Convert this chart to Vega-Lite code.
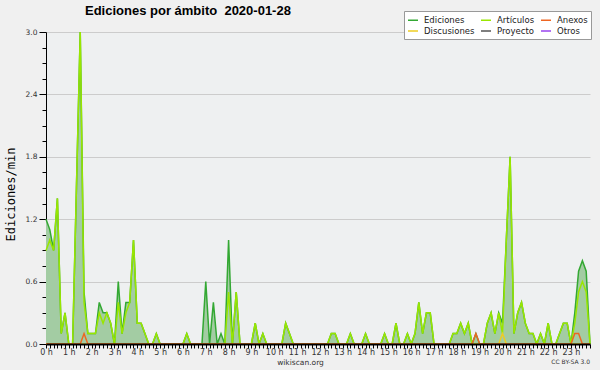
{
  "$schema": "https://vega.github.io/schema/vega-lite/v6.json",
  "width": 544,
  "height": 312,
  "autosize": {"type": "none"},
  "padding": {"left": 46, "top": 32, "right": 10, "bottom": 26},
  "background": "#f0f0f0",
  "config": {"view": {"stroke": null, "fill": "#eef0f1"}, "font": "DejaVu Sans"},
  "title": {"text": "Ediciones por ámbito \u00a02020-01-28", "anchor": "start", "frame": "group", "dx": 39, "dy": 19, "font": "Liberation Sans", "fontSize": 13, "fontWeight": "bold", "color": "#000000", "offset": 12},
  "data": {"values": [
    {"min":0,"Ediciones":1.2,"Artículos":0.9,"Anexos":0,"Discusiones":0},
    {"min":10,"Ediciones":1.1,"Artículos":1.0,"Anexos":0,"Discusiones":0},
    {"min":20,"Ediciones":0.9,"Artículos":0.9,"Anexos":0,"Discusiones":0},
    {"min":30,"Ediciones":1.4,"Artículos":1.4,"Anexos":0,"Discusiones":0},
    {"min":40,"Ediciones":0.1,"Artículos":0.1,"Anexos":0,"Discusiones":0},
    {"min":50,"Ediciones":0.3,"Artículos":0.3,"Anexos":0,"Discusiones":0},
    {"min":60,"Ediciones":0,"Artículos":0,"Anexos":0,"Discusiones":0},
    {"min":70,"Ediciones":0,"Artículos":0,"Anexos":0,"Discusiones":0},
    {"min":80,"Ediciones":1.5,"Artículos":1.5,"Anexos":0,"Discusiones":0},
    {"min":90,"Ediciones":3.0,"Artículos":3.0,"Anexos":0,"Discusiones":0},
    {"min":100,"Ediciones":0.5,"Artículos":0.4,"Anexos":0.1,"Discusiones":0},
    {"min":110,"Ediciones":0.1,"Artículos":0.1,"Anexos":0,"Discusiones":0},
    {"min":120,"Ediciones":0.1,"Artículos":0.1,"Anexos":0,"Discusiones":0},
    {"min":130,"Ediciones":0.1,"Artículos":0.1,"Anexos":0,"Discusiones":0},
    {"min":140,"Ediciones":0.4,"Artículos":0.3,"Anexos":0,"Discusiones":0},
    {"min":150,"Ediciones":0.3,"Artículos":0.2,"Anexos":0,"Discusiones":0},
    {"min":160,"Ediciones":0.3,"Artículos":0.3,"Anexos":0,"Discusiones":0},
    {"min":170,"Ediciones":0.2,"Artículos":0.2,"Anexos":0,"Discusiones":0},
    {"min":180,"Ediciones":0,"Artículos":0,"Anexos":0,"Discusiones":0},
    {"min":190,"Ediciones":0.6,"Artículos":0.4,"Anexos":0,"Discusiones":0},
    {"min":200,"Ediciones":0.1,"Artículos":0.1,"Anexos":0,"Discusiones":0},
    {"min":210,"Ediciones":0.4,"Artículos":0.3,"Anexos":0,"Discusiones":0},
    {"min":220,"Ediciones":0.4,"Artículos":0.4,"Anexos":0,"Discusiones":0},
    {"min":230,"Ediciones":1.0,"Artículos":1.0,"Anexos":0,"Discusiones":0},
    {"min":240,"Ediciones":0.2,"Artículos":0.2,"Anexos":0,"Discusiones":0},
    {"min":250,"Ediciones":0.2,"Artículos":0.2,"Anexos":0,"Discusiones":0},
    {"min":260,"Ediciones":0.1,"Artículos":0.1,"Anexos":0,"Discusiones":0},
    {"min":270,"Ediciones":0,"Artículos":0,"Anexos":0,"Discusiones":0},
    {"min":280,"Ediciones":0,"Artículos":0,"Anexos":0,"Discusiones":0},
    {"min":290,"Ediciones":0.1,"Artículos":0.1,"Anexos":0,"Discusiones":0},
    {"min":300,"Ediciones":0,"Artículos":0,"Anexos":0,"Discusiones":0},
    {"min":310,"Ediciones":0,"Artículos":0,"Anexos":0,"Discusiones":0},
    {"min":320,"Ediciones":0,"Artículos":0,"Anexos":0,"Discusiones":0},
    {"min":330,"Ediciones":0,"Artículos":0,"Anexos":0,"Discusiones":0},
    {"min":340,"Ediciones":0,"Artículos":0,"Anexos":0,"Discusiones":0},
    {"min":350,"Ediciones":0,"Artículos":0,"Anexos":0,"Discusiones":0},
    {"min":360,"Ediciones":0,"Artículos":0,"Anexos":0,"Discusiones":0},
    {"min":370,"Ediciones":0.1,"Artículos":0.1,"Anexos":0,"Discusiones":0},
    {"min":380,"Ediciones":0,"Artículos":0,"Anexos":0,"Discusiones":0},
    {"min":390,"Ediciones":0,"Artículos":0,"Anexos":0,"Discusiones":0},
    {"min":400,"Ediciones":0,"Artículos":0,"Anexos":0,"Discusiones":0},
    {"min":410,"Ediciones":0,"Artículos":0,"Anexos":0,"Discusiones":0},
    {"min":420,"Ediciones":0.6,"Artículos":0,"Anexos":0,"Discusiones":0},
    {"min":430,"Ediciones":0,"Artículos":0,"Anexos":0,"Discusiones":0},
    {"min":440,"Ediciones":0.4,"Artículos":0,"Anexos":0,"Discusiones":0},
    {"min":450,"Ediciones":0,"Artículos":0,"Anexos":0,"Discusiones":0},
    {"min":460,"Ediciones":0.1,"Artículos":0,"Anexos":0,"Discusiones":0},
    {"min":470,"Ediciones":0,"Artículos":0,"Anexos":0,"Discusiones":0},
    {"min":480,"Ediciones":1.0,"Artículos":0.5,"Anexos":0,"Discusiones":0},
    {"min":490,"Ediciones":0,"Artículos":0,"Anexos":0,"Discusiones":0},
    {"min":500,"Ediciones":0.5,"Artículos":0.5,"Anexos":0,"Discusiones":0},
    {"min":510,"Ediciones":0,"Artículos":0,"Anexos":0,"Discusiones":0},
    {"min":520,"Ediciones":0,"Artículos":0,"Anexos":0,"Discusiones":0},
    {"min":530,"Ediciones":0,"Artículos":0,"Anexos":0,"Discusiones":0},
    {"min":540,"Ediciones":0,"Artículos":0,"Anexos":0,"Discusiones":0},
    {"min":550,"Ediciones":0.2,"Artículos":0.2,"Anexos":0,"Discusiones":0},
    {"min":560,"Ediciones":0,"Artículos":0,"Anexos":0,"Discusiones":0},
    {"min":570,"Ediciones":0.1,"Artículos":0.1,"Anexos":0,"Discusiones":0},
    {"min":580,"Ediciones":0,"Artículos":0,"Anexos":0,"Discusiones":0},
    {"min":590,"Ediciones":0,"Artículos":0,"Anexos":0,"Discusiones":0},
    {"min":600,"Ediciones":0,"Artículos":0,"Anexos":0,"Discusiones":0},
    {"min":610,"Ediciones":0,"Artículos":0,"Anexos":0,"Discusiones":0},
    {"min":620,"Ediciones":0,"Artículos":0,"Anexos":0,"Discusiones":0},
    {"min":630,"Ediciones":0.2,"Artículos":0.2,"Anexos":0,"Discusiones":0},
    {"min":640,"Ediciones":0.1,"Artículos":0.1,"Anexos":0,"Discusiones":0},
    {"min":650,"Ediciones":0,"Artículos":0,"Anexos":0,"Discusiones":0},
    {"min":660,"Ediciones":0,"Artículos":0,"Anexos":0,"Discusiones":0},
    {"min":670,"Ediciones":0,"Artículos":0,"Anexos":0,"Discusiones":0},
    {"min":680,"Ediciones":0,"Artículos":0,"Anexos":0,"Discusiones":0},
    {"min":690,"Ediciones":0,"Artículos":0,"Anexos":0,"Discusiones":0},
    {"min":700,"Ediciones":0,"Artículos":0,"Anexos":0,"Discusiones":0},
    {"min":710,"Ediciones":0,"Artículos":0,"Anexos":0,"Discusiones":0},
    {"min":720,"Ediciones":0,"Artículos":0,"Anexos":0,"Discusiones":0},
    {"min":730,"Ediciones":0,"Artículos":0,"Anexos":0,"Discusiones":0},
    {"min":740,"Ediciones":0,"Artículos":0,"Anexos":0,"Discusiones":0},
    {"min":750,"Ediciones":0.1,"Artículos":0.1,"Anexos":0,"Discusiones":0},
    {"min":760,"Ediciones":0.1,"Artículos":0.1,"Anexos":0,"Discusiones":0},
    {"min":770,"Ediciones":0,"Artículos":0,"Anexos":0,"Discusiones":0},
    {"min":780,"Ediciones":0,"Artículos":0,"Anexos":0,"Discusiones":0},
    {"min":790,"Ediciones":0,"Artículos":0,"Anexos":0,"Discusiones":0},
    {"min":800,"Ediciones":0.1,"Artículos":0.1,"Anexos":0,"Discusiones":0},
    {"min":810,"Ediciones":0,"Artículos":0,"Anexos":0,"Discusiones":0},
    {"min":820,"Ediciones":0,"Artículos":0,"Anexos":0,"Discusiones":0},
    {"min":830,"Ediciones":0,"Artículos":0,"Anexos":0,"Discusiones":0},
    {"min":840,"Ediciones":0.1,"Artículos":0.1,"Anexos":0,"Discusiones":0},
    {"min":850,"Ediciones":0,"Artículos":0,"Anexos":0,"Discusiones":0},
    {"min":860,"Ediciones":0,"Artículos":0,"Anexos":0,"Discusiones":0},
    {"min":870,"Ediciones":0,"Artículos":0,"Anexos":0,"Discusiones":0},
    {"min":880,"Ediciones":0,"Artículos":0,"Anexos":0,"Discusiones":0},
    {"min":890,"Ediciones":0.1,"Artículos":0.1,"Anexos":0,"Discusiones":0},
    {"min":900,"Ediciones":0,"Artículos":0,"Anexos":0,"Discusiones":0},
    {"min":910,"Ediciones":0,"Artículos":0,"Anexos":0,"Discusiones":0},
    {"min":920,"Ediciones":0.2,"Artículos":0.2,"Anexos":0,"Discusiones":0},
    {"min":930,"Ediciones":0,"Artículos":0,"Anexos":0,"Discusiones":0},
    {"min":940,"Ediciones":0,"Artículos":0,"Anexos":0,"Discusiones":0},
    {"min":950,"Ediciones":0.1,"Artículos":0.1,"Anexos":0,"Discusiones":0},
    {"min":960,"Ediciones":0,"Artículos":0,"Anexos":0,"Discusiones":0},
    {"min":970,"Ediciones":0.1,"Artículos":0.1,"Anexos":0,"Discusiones":0},
    {"min":980,"Ediciones":0.4,"Artículos":0.4,"Anexos":0,"Discusiones":0},
    {"min":990,"Ediciones":0.1,"Artículos":0.1,"Anexos":0,"Discusiones":0},
    {"min":1000,"Ediciones":0.3,"Artículos":0.3,"Anexos":0,"Discusiones":0},
    {"min":1010,"Ediciones":0.3,"Artículos":0.3,"Anexos":0,"Discusiones":0},
    {"min":1020,"Ediciones":0,"Artículos":0,"Anexos":0,"Discusiones":0},
    {"min":1030,"Ediciones":0,"Artículos":0,"Anexos":0,"Discusiones":0},
    {"min":1040,"Ediciones":0,"Artículos":0,"Anexos":0,"Discusiones":0},
    {"min":1050,"Ediciones":0,"Artículos":0,"Anexos":0,"Discusiones":0},
    {"min":1060,"Ediciones":0,"Artículos":0,"Anexos":0,"Discusiones":0},
    {"min":1070,"Ediciones":0.1,"Artículos":0.1,"Anexos":0,"Discusiones":0},
    {"min":1080,"Ediciones":0.1,"Artículos":0.1,"Anexos":0,"Discusiones":0},
    {"min":1090,"Ediciones":0.2,"Artículos":0.2,"Anexos":0,"Discusiones":0},
    {"min":1100,"Ediciones":0.1,"Artículos":0.1,"Anexos":0,"Discusiones":0},
    {"min":1110,"Ediciones":0.2,"Artículos":0.2,"Anexos":0,"Discusiones":0},
    {"min":1120,"Ediciones":0,"Artículos":0,"Anexos":0,"Discusiones":0},
    {"min":1130,"Ediciones":0.1,"Artículos":0,"Anexos":0.1,"Discusiones":0},
    {"min":1140,"Ediciones":0,"Artículos":0,"Anexos":0,"Discusiones":0},
    {"min":1150,"Ediciones":0,"Artículos":0,"Anexos":0,"Discusiones":0},
    {"min":1160,"Ediciones":0.2,"Artículos":0.2,"Anexos":0,"Discusiones":0},
    {"min":1170,"Ediciones":0.3,"Artículos":0.3,"Anexos":0,"Discusiones":0},
    {"min":1180,"Ediciones":0.1,"Artículos":0.1,"Anexos":0,"Discusiones":0},
    {"min":1190,"Ediciones":0.3,"Artículos":0.3,"Anexos":0,"Discusiones":0},
    {"min":1200,"Ediciones":0.2,"Artículos":0.1,"Anexos":0,"Discusiones":0.1},
    {"min":1210,"Ediciones":1.0,"Artículos":1.0,"Anexos":0,"Discusiones":0},
    {"min":1220,"Ediciones":1.8,"Artículos":1.8,"Anexos":0,"Discusiones":0},
    {"min":1230,"Ediciones":0.1,"Artículos":0.1,"Anexos":0,"Discusiones":0},
    {"min":1240,"Ediciones":0.3,"Artículos":0.3,"Anexos":0,"Discusiones":0},
    {"min":1250,"Ediciones":0.4,"Artículos":0.4,"Anexos":0,"Discusiones":0},
    {"min":1260,"Ediciones":0.2,"Artículos":0.2,"Anexos":0,"Discusiones":0},
    {"min":1270,"Ediciones":0.1,"Artículos":0.1,"Anexos":0,"Discusiones":0},
    {"min":1280,"Ediciones":0.1,"Artículos":0.1,"Anexos":0,"Discusiones":0},
    {"min":1290,"Ediciones":0,"Artículos":0,"Anexos":0,"Discusiones":0},
    {"min":1300,"Ediciones":0.1,"Artículos":0.1,"Anexos":0,"Discusiones":0},
    {"min":1310,"Ediciones":0,"Artículos":0,"Anexos":0,"Discusiones":0},
    {"min":1320,"Ediciones":0.2,"Artículos":0.2,"Anexos":0,"Discusiones":0},
    {"min":1330,"Ediciones":0,"Artículos":0,"Anexos":0,"Discusiones":0},
    {"min":1340,"Ediciones":0,"Artículos":0,"Anexos":0,"Discusiones":0},
    {"min":1350,"Ediciones":0.1,"Artículos":0.1,"Anexos":0,"Discusiones":0},
    {"min":1360,"Ediciones":0.2,"Artículos":0.2,"Anexos":0,"Discusiones":0},
    {"min":1370,"Ediciones":0.2,"Artículos":0.2,"Anexos":0,"Discusiones":0},
    {"min":1380,"Ediciones":0,"Artículos":0,"Anexos":0,"Discusiones":0},
    {"min":1390,"Ediciones":0.3,"Artículos":0.2,"Anexos":0.1,"Discusiones":0},
    {"min":1400,"Ediciones":0.7,"Artículos":0.5,"Anexos":0.1,"Discusiones":0},
    {"min":1410,"Ediciones":0.8,"Artículos":0.6,"Anexos":0,"Discusiones":0},
    {"min":1420,"Ediciones":0.7,"Artículos":0.5,"Anexos":0,"Discusiones":0},
    {"min":1430,"Ediciones":0,"Artículos":0,"Anexos":0,"Discusiones":0}
  ]},
  "encoding": {
    "x": {
      "field": "min", "type": "quantitative",
      "scale": {"domain": [0, 1430], "nice": false, "zero": false},
      "axis": {
        "values": [0,10,20,30,40,50,60,70,80,90,100,110,120,130,140,150,160,170,180,190,200,210,220,230,240,250,260,270,280,290,300,310,320,330,340,350,360,370,380,390,400,410,420,430,440,450,460,470,480,490,500,510,520,530,540,550,560,570,580,590,600,610,620,630,640,650,660,670,680,690,700,710,720,730,740,750,760,770,780,790,800,810,820,830,840,850,860,870,880,890,900,910,920,930,940,950,960,970,980,990,1000,1010,1020,1030,1040,1050,1060,1070,1080,1090,1100,1110,1120,1130,1140,1150,1160,1170,1180,1190,1200,1210,1220,1230,1240,1250,1260,1270,1280,1290,1300,1310,1320,1330,1340,1350,1360,1370,1380,1390,1400,1410,1420,1430],
        "labelExpr": "datum.value % 60 == 0 ? (datum.value / 60) + ' h' : ''",
        "labelOverlap": false, "labelFlush": false,
        "labelFont": "DejaVu Sans", "labelFontSize": 8, "labelColor": "#333333", "labelPadding": 0,
        "tickSize": 4, "tickColor": "#000000", "tickWidth": 1,
        "domainColor": "#000000", "domainWidth": 2,
        "grid": false, "zindex": 1,
        "title": "wikiscan.org", "titleFont": "DejaVu Sans", "titleFontSize": 7.5, "titleFontWeight": "normal", "titleColor": "#333333",
        "titleX": 254, "titleY": 20, "titleBaseline": "alphabetic"
      }
    },
    "y": {
      "field": "value", "type": "quantitative",
      "scale": {"domain": [0, 3], "nice": false},
      "axis": {
        "values": [0,0.15,0.3,0.45,0.6,0.75,0.9,1.05,1.2,1.35,1.5,1.65,1.8,1.95,2.1,2.25,2.4,2.55,2.7,2.85,3],
        "labelExpr": "indexof([0,0.6,1.2,1.8,2.4,3], datum.value) >= 0 ? format(datum.value, '.1f') : ''",
        "labelOverlap": false, "labelFlush": false,
        "labelFont": "DejaVu Sans", "labelFontSize": 7.5, "labelColor": "#333333", "labelPadding": 2,
        "tickSize": {"condition": {"test": "indexof([0,0.6,1.2,1.8,2.4,3], datum.value) >= 0", "value": 7}, "value": 4},
        "tickColor": "#000000",
        "domainColor": "#000000", "domainWidth": 1,
        "grid": true, "gridColor": "#cccccc",
        "gridOpacity": {"condition": {"test": "indexof([0.6,1.2,1.8,2.4,3], datum.value) >= 0", "value": 1}, "value": 0},
        "title": "Ediciones/min", "titleFont": "DejaVu Sans Mono", "titleFontSize": 12, "titleFontWeight": "normal", "titleColor": "#000000",
        "titleX": -32, "titleY": 162, "titleBaseline": "alphabetic"
      }
    }
  },
  "layer": [
    {
      "transform": [
        {"fold": ["Ediciones"], "as": ["key", "value"]}
      ],
      "mark": {"type": "area", "color": "#a3cca3", "opacity": 1}
    },
    {
      "transform": [
        {"fold": ["Ediciones", "Artículos", "Discusiones", "Anexos"], "as": ["key", "value"]}
      ],
      "mark": {"type": "line", "strokeWidth": 1.5},
      "encoding": {
        "color": {
          "field": "key", "type": "nominal",
          "scale": {"domain": ["Ediciones", "Artículos", "Anexos", "Discusiones", "Proyecto", "Otros"], "range": ["#33a833", "#99e600", "#ee6622", "#eecc22", "#555555", "#9944ee"]},
          "legend": {
            "orient": "none", "legendX": 358, "legendY": -21, "columns": 3, "direction": "horizontal",
            "symbolType": "stroke", "symbolSize": 100, "symbolStrokeWidth": 1.5,
            "labelFont": "DejaVu Sans", "labelFontSize": 8.5, "labelColor": "#222222", "labelOffset": 5,
            "title": null, "fillColor": "#ffffff", "strokeColor": "#999999",
            "padding": 3, "columnPadding": 3, "rowPadding": -3, "gridAlign": "each"
          }
        }
      }
    },
    {
      "data": {"values": [{"min": 1430, "value": 0, "t": "CC BY-SA 3.0"}]},
      "mark": {"type": "text", "align": "right", "baseline": "alphabetic", "dy": 20, "fontSize": 6, "font": "DejaVu Sans", "color": "#333333"},
      "encoding": {
        "text": {"field": "t"}
      }
    }
  ]
}
